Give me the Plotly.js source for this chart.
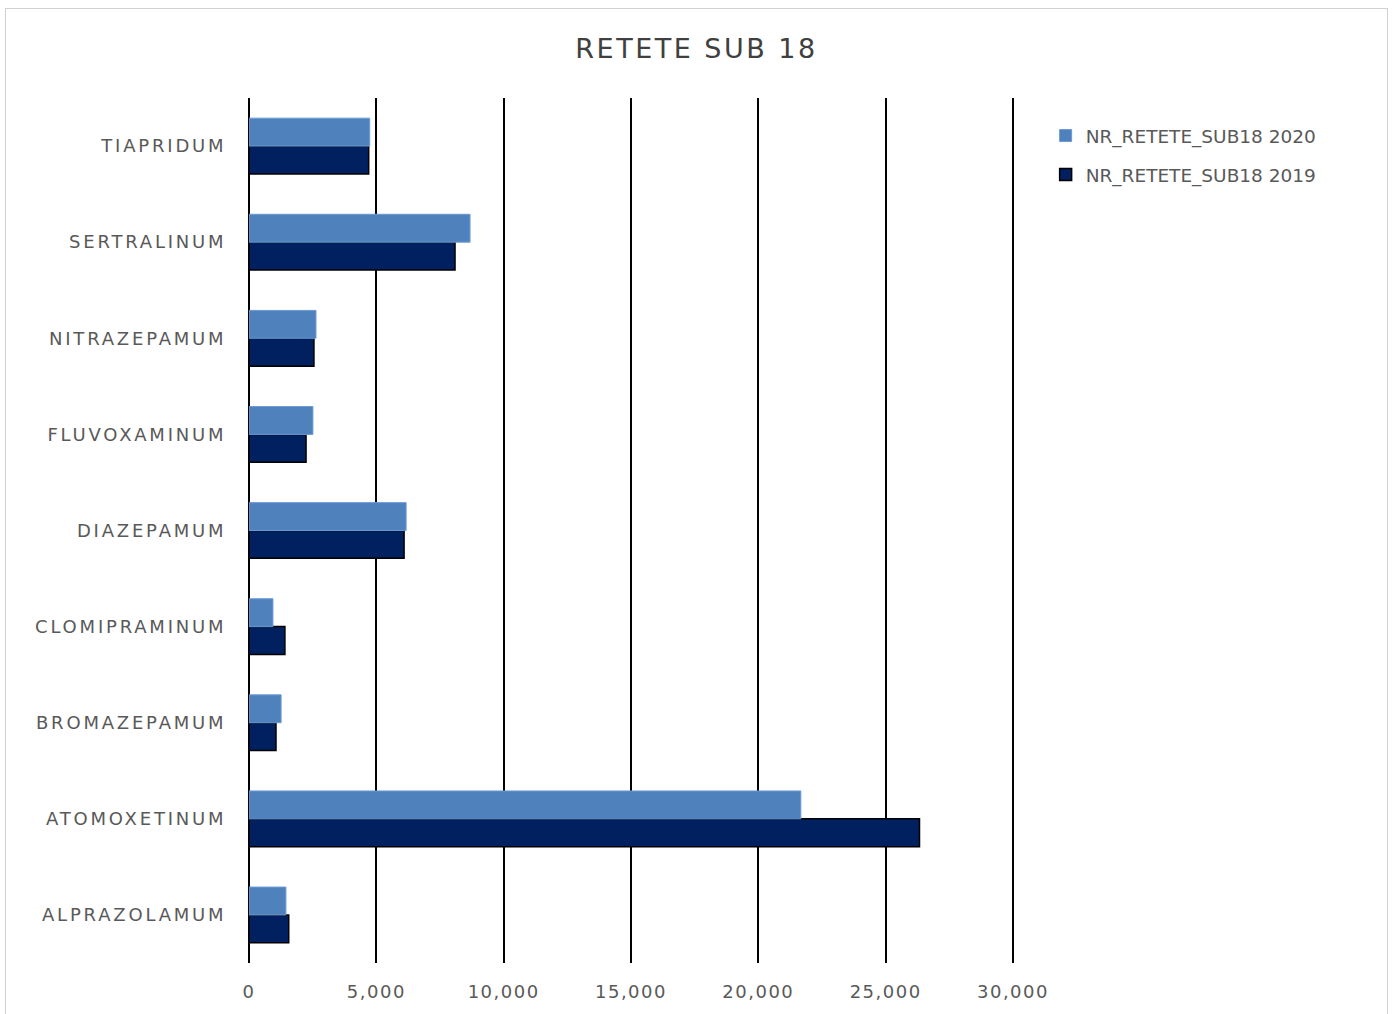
<!DOCTYPE html>
<html>
<head>
<meta charset="utf-8">
<script src="https://cdn.plot.ly/plotly-3.0.1.min.js"></script>
<style>
html,body{margin:0;padding:0;background:#fff;}
#wrap{position:relative;width:1393px;height:1014px;}
#chart{position:absolute;left:0;top:0;width:1393px;height:1014px;}
#frame{position:absolute;left:5px;top:8px;width:1381px;height:1010px;border:1px solid #d0d0d0;pointer-events:none;}
#chart .ytick text{letter-spacing:2.8px;}
#chart .xtick text{letter-spacing:1.5px;}
#chart .gtitle{letter-spacing:2.5px;}
</style>
</head>
<body>
<div id="wrap"><div id="chart"></div><div id="frame"></div></div>
<script>
const categories = ["ALPRAZOLAMUM","ATOMOXETINUM","BROMAZEPAMUM","CLOMIPRAMINUM","DIAZEPAMUM","FLUVOXAMINUM","NITRAZEPAMUM","SERTRALINUM","TIAPRIDUM"];
const values2019 = [1560, 26330, 1060, 1410, 6090, 2240, 2550, 8090, 4700];
const values2020 = [1450, 21670, 1260, 940, 6170, 2510, 2630, 8680, 4740];
const seriesNames = ["NR_RETETE_SUB18 2019", "NR_RETETE_SUB18 2020"];
const tickVals = [0, 5000, 10000, 15000, 20000, 25000, 30000];

const fontFam = "DejaVu Sans, sans-serif";
const traces = [
  {type:"bar", orientation:"h", name:seriesNames[0], legendgroup:"a", legendrank:2, y:categories, x:values2019,
   marker:{color:"#002060", line:{color:"#000000", width:1.5}}},
  {type:"bar", orientation:"h", name:seriesNames[1], legendgroup:"b", legendrank:1, y:categories, x:values2020,
   marker:{color:"#4f81bd", line:{color:"#6a9ad6", width:1}}}
];
const layout = {
  width:1393, height:1014,
  paper_bgcolor:"rgba(0,0,0,0)", plot_bgcolor:"rgba(0,0,0,0)",
  margin:{l:249, r:378, t:98, b:51},
  barmode:"group", bargap:0.42, bargroupgap:0,
  title:{text:"RETETE SUB 18", x:0.5, xref:"container", xanchor:"center", y:0.952, yanchor:"middle",
    font:{family:fontFam, size:27, color:"#404040"}},
  xaxis:{range:[0,30080], tickvals:tickVals, tickformat:",d",
    showgrid:true, gridcolor:"#000000", gridwidth:2,
    zeroline:true, zerolinecolor:"#000000", zerolinewidth:2,
    showline:false, ticks:"outside", ticklen:12, tickcolor:"rgba(0,0,0,0)",
    tickfont:{family:fontFam, size:18, color:"#595959"}, fixedrange:true},
  yaxis:{type:"category", showgrid:false, zeroline:false, showline:false,
    ticks:"outside", ticklen:18, tickcolor:"rgba(0,0,0,0)",
    tickfont:{family:fontFam, size:18, color:"#595959"}, fixedrange:true},
  showlegend:true,
  legend:{x:1.04, y:0.978, xanchor:"left", yanchor:"top", traceorder:"grouped",
    font:{family:fontFam, size:18.5, color:"#595959"}, itemwidth:30, tracegroupgap:12,
    bgcolor:"rgba(0,0,0,0)"}
};
Plotly.newPlot("chart", traces, layout, {displayModeBar:false, staticPlot:true});
</script>
</body>
</html>
